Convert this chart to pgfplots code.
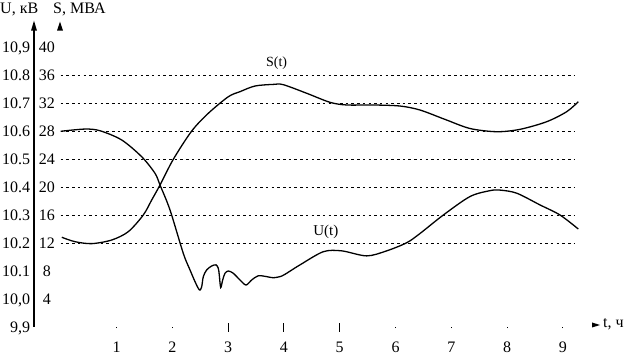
\documentclass[border=0pt]{standalone}
\usepackage{pgfplots}
\pgfplotsset{compat=1.18}
\usepackage{fontspec}
\setmainfont{Liberation Serif}
\begin{document}
\begin{tikzpicture}[x=1pt,y=1pt]
\useasboundingbox (0,0) rectangle (629,356);
\pgfplotsset{myax/.style={at={(34pt,28.7pt)}, anchor=south west, scale only axis,
  width=556.8pt, height=308pt, xmin=-0.4785, xmax=9.5,
  axis x line=bottom, axis y line=left, axis line style={draw=none},
  clip=false, tick label style={font=\fontsize{16}{19}\selectfont},
  /pgf/number format/assume math mode=true, ytick style={draw=none}}}
\begin{axis}[myax, ymin=9.9, ymax=11.0,
  ytick={9.9,10.0,10.1,10.2,10.3,10.4,10.5,10.6,10.7,10.8,10.9},
  yticklabels={{9,9},{10,0},10.1,10.2,10.3,10.4,10.5,10.6,10.7,10.8,{10,9}},
  yticklabel style={anchor=base east, xshift=-3pt, yshift=-5.4pt, inner sep=0pt},
  xtick={1,2,3,4,5,6,7,8,9},
  xticklabel style={anchor=base, yshift=-24.5pt, inner sep=0pt},
  tick align=center, major tick length=1.5pt, xtick style={black, line width=1pt},
  extra x ticks={3,4,5}, extra x tick labels={},
  extra x tick style={major tick length=9pt}]
\addplot[black, line width=1.3pt, smooth] coordinates {
(0,10.600) (0.435,10.608) (0.704,10.602) (1.093,10.569) (1.452,10.509)
(1.690,10.450) (1.780,10.408) (1.959,10.319) (2.197,10.164) (2.317,10.105)
(2.407,10.063) (2.466,10.039) (2.496,10.033) (2.527,10.045) (2.556,10.081)
(2.616,10.105) (2.706,10.119) (2.783,10.123) (2.824,10.111) (2.842,10.087)
(2.867,10.042) (2.903,10.069) (2.944,10.093) (3.004,10.101) (3.093,10.093)
(3.213,10.069) (3.321,10.051) (3.423,10.069) (3.541,10.084) (3.692,10.081)
(3.810,10.077) (3.961,10.083) (4.097,10.099) (4.289,10.123) (4.706,10.170)
(5.036,10.173) (5.484,10.155) (5.842,10.173) (6.201,10.202) (6.439,10.235)
(6.857,10.301) (7.335,10.367) (7.693,10.388) (7.872,10.390) (8.172,10.379)
(8.590,10.337) (8.949,10.301) (9.276,10.251)};
\node[font=\fontsize{15}{18}\selectfont, inner sep=0pt] at (axis cs:4.75,10.24) {U(t)};
\end{axis}
\begin{axis}[myax, ymin=0, ymax=44, ytick={4,8,12,16,20,24,28,32,36,40},
  yticklabel style={anchor=base, xshift=15pt, yshift=-5.4pt, inner sep=0pt},
  xtick=\empty]
\pgfplotsinvokeforeach{12,16,20,24,28,32,36}{
  \draw[black, line width=0.8pt, dash pattern=on 2.5pt off 3.2pt] (axis cs:0,#1) -- (axis cs:9.22,#1);}
\addplot[black, line width=1.3pt, smooth] coordinates {
(0.02,12.86) (0.256,12.23) (0.556,11.95) (0.914,12.47) (1.211,13.66)
(1.480,16.04) (1.631,18.19) (1.780,20.33) (2.018,24.0) (2.348,28.04)
(2.645,30.57) (3.004,32.94) (3.213,33.66) (3.482,34.47) (3.810,34.7)
(3.989,34.66) (4.409,33.43) (4.826,32.14) (5.125,31.76) (5.602,31.76)
(6.081,31.61) (6.439,31.04) (6.887,29.7) (7.335,28.4) (7.814,27.94)
(8.231,28.28) (8.710,29.37) (9.068,30.8) (9.276,32.23)};
\node[font=\fontsize{14}{17}\selectfont, inner sep=0pt] at (axis cs:3.87,37.76) {S(t)};
\end{axis}
% axis line and arrowheads
\draw[black, line width=1.3pt] (34,29.3) -- (34,326);
\fill[black] (31,325.3) -- (34,335.3) -- (37,325.3) -- cycle;
\fill[black] (57,325.3) -- (60,334.3) -- (63,325.3) -- cycle;
\fill[black] (592,33.5) -- (600,31) -- (592,28.5) -- cycle;
\node[anchor=west, inner sep=0pt, font=\fontsize{16}{19}\selectfont] at (603,31.5) {t, ч};
\node[anchor=base west, inner sep=0pt, font=\fontsize{16}{19}\selectfont] at (0,342.7) {U, кВ};
\node[anchor=base west, inner sep=0pt, font=\fontsize{16}{19}\selectfont] at (53,342.7) {S, МВА};
\end{tikzpicture}
\end{document}
